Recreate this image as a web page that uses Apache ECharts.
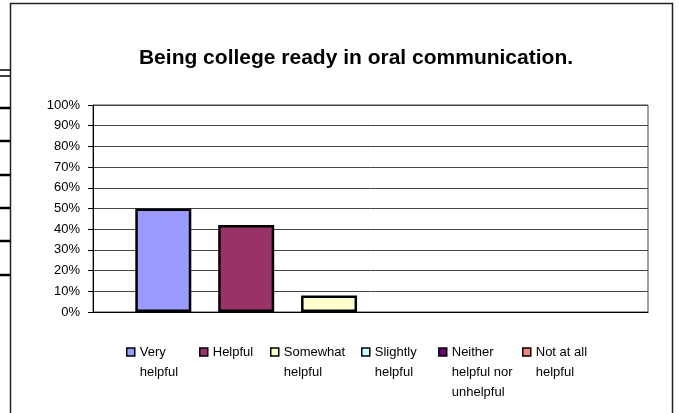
<!DOCTYPE html>
<html>
<head>
<meta charset="utf-8">
<script src="https://cdn.jsdelivr.net/npm/echarts@6/dist/echarts.min.js"></script>
<style>html,body{margin:0;padding:0;background:#fff;}#c{width:679px;height:413px;}</style>
</head>
<body>
<div id="c"></div>
<script>
var titleText = 'Being college ready in oral communication.';
var categories = [''];
var seriesNames = ['Very\nhelpful', 'Helpful', 'Somewhat\nhelpful', 'Slightly\nhelpful', 'Neither\nhelpful nor\nunhelpful', 'Not at all\nhelpful'];
var seriesValues = [50, 42, 8, 0, 0, 0];
var seriesColors = ['#9999FF', '#993366', '#FFFFCC', '#CCFFFF', '#660066', '#FF8080'];
var yTicks = [0, 10, 20, 30, 40, 50, 60, 70, 80, 90, 100];
var legendLefts = [126, 199, 270, 361, 438, 522];

var chart = echarts.init(document.getElementById('c'), null, {renderer: 'canvas'});

var series = seriesNames.map(function (n, i) {
  var v = seriesValues[i];
  return {
    name: n,
    type: 'bar',
    data: [{value: v, itemStyle: v === 0 ? {borderWidth: 0, opacity: 0} : {}}],
    barWidth: 56,
    barGap: '48%',
    itemStyle: {color: seriesColors[i], borderColor: '#000', borderWidth: 2.5},
    emphasis: {disabled: true},
    animation: false
  };
});

var legends = seriesNames.map(function (n, i) {
  var lines = n.split('\n').length;
  var pre = '';
  for (var k = 1; k < lines; k++) pre += ' \n';
  return {
    data: [{name: n, itemStyle: {opacity: 1, borderWidth: 1.5, borderColor: '#000'}}],
    left: legendLefts[i],
    top: 352 - 10 * (2 * lines - 1),
    orient: 'vertical',
    itemWidth: 8,
    itemHeight: 8,
    itemGap: 0,
    padding: 0,
    selectedMode: false,
    icon: 'rect',
    formatter: function (name) { return pre + name; },
    itemStyle: {borderWidth: 1.5, borderColor: '#000'},
    textStyle: {
      fontFamily: 'Liberation Sans, Arial, sans-serif',
      fontSize: 13,
      color: '#000',
      lineHeight: 20
    }
  };
});

var leftMarks = [70, 76, 108, 141, 175, 208, 241, 275];
var graphics = [{
  type: 'rect',
  shape: {x: 10.5, y: 3.5, width: 662, height: 430},
  style: {fill: null, stroke: '#222', lineWidth: 1.5},
  silent: true
}];
leftMarks.forEach(function (y, i) {
  graphics.push({
    type: 'line',
    shape: {x1: 0, y1: y, x2: 10, y2: y},
    style: {stroke: '#000', lineWidth: i < 2 ? 1.5 : 2.5},
    silent: true
  });
});

chart.setOption({
  animation: false,
  backgroundColor: '#fff',
  title: {
    text: titleText,
    left: 351,
    textAlign: 'center',
    top: 43,
    textStyle: {fontFamily: 'Liberation Sans, Arial, sans-serif', fontSize: 21, fontWeight: 'bold', color: '#000'}
  },
  legend: legends,
  grid: {
    left: 93, right: 31, top: 105, bottom: 101,
    show: true, borderColor: '#444', borderWidth: 1, backgroundColor: '#fff',
    containLabel: false
  },
  xAxis: {
    type: 'category',
    data: categories,
    axisLine: {show: true, lineStyle: {color: '#000', width: 1}},
    axisTick: {show: false},
    axisLabel: {show: false},
    splitLine: {show: false}
  },
  yAxis: {
    type: 'value',
    min: yTicks[0],
    max: yTicks[yTicks.length - 1],
    interval: 10,
    axisLine: {show: true, lineStyle: {color: '#000', width: 1}},
    axisTick: {show: true, length: 5, inside: false, lineStyle: {color: '#000'}},
    axisLabel: {
      formatter: '{value}%',
      margin: 13,
      fontFamily: 'Liberation Sans, Arial, sans-serif',
      fontSize: 13,
      color: '#000'
    },
    splitLine: {show: true, lineStyle: {color: '#444', width: 1}}
  },
  series: series,
  graphic: graphics
});
</script>
</body>
</html>
